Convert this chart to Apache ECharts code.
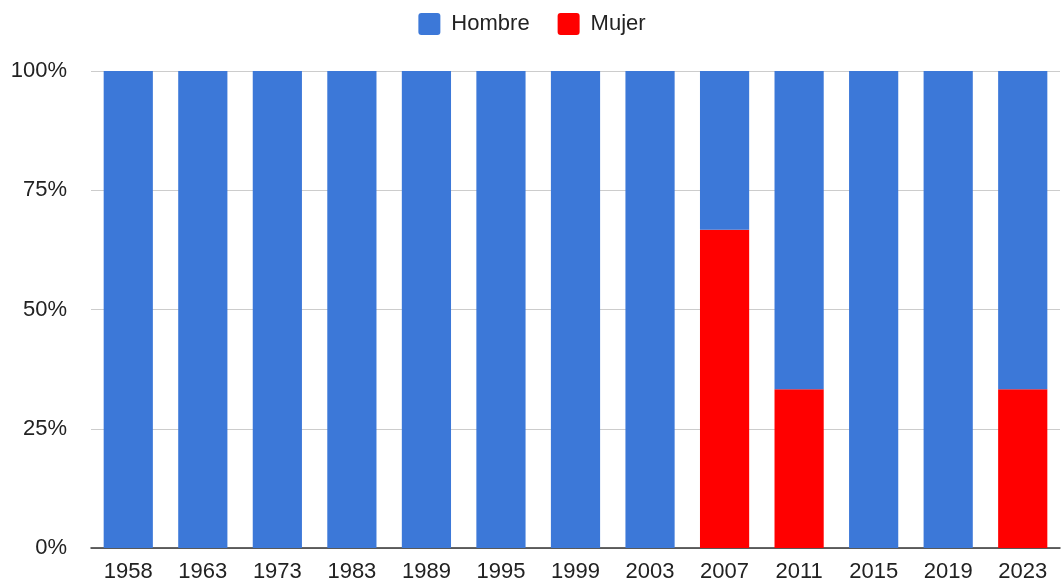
<!DOCTYPE html>
<html>
<head>
<meta charset="utf-8">
<script src="https://cdn.jsdelivr.net/npm/echarts@6/dist/echarts.min.js"></script>
<style>
  html, body { margin: 0; padding: 0; background: #fff; }
  #chart { width: 1064px; height: 583px; }
</style>
</head>
<body>
<div id="chart"></div>
<script>
var years = ['1958', '1963', '1973', '1983', '1989', '1995', '1999', '2003', '2007', '2011', '2015', '2019', '2023'];
var hombre = [100, 100, 100, 100, 100, 100, 100, 100, 33.3, 66.7, 100, 100, 66.7];
var mujer = [0, 0, 0, 0, 0, 0, 0, 0, 66.7, 33.3, 0, 0, 33.3];
var yTicks = [0, 25, 50, 75, 100];

var chart = echarts.init(document.getElementById('chart'));
chart.setOption({
  animation: false,
  textStyle: { fontFamily: '"Liberation Sans", Arial, sans-serif' },
  legend: {
    data: ['Hombre', 'Mujer'],
    top: 8,
    left: 'center',
    itemWidth: 22,
    itemHeight: 22,
    itemGap: 28,
    icon: 'path://M3,0 H19 A3,3 0 0 1 22,3 V19 A3,3 0 0 1 19,22 H3 A3,3 0 0 1 0,19 V3 A3,3 0 0 1 3,0 Z',
    textStyle: { fontSize: 22, color: '#222', padding: [0, 0, 0, 6] }
  },
  grid: { left: 91, right: 4, top: 71, bottom: 34, containLabel: false },
  xAxis: {
    type: 'category',
    data: years,
    axisTick: { show: false },
    axisLine: { lineStyle: { color: '#333', width: 1.5 } },
    axisLabel: { fontSize: 22, color: '#222', margin: 13 }
  },
  yAxis: {
    type: 'value',
    min: 0,
    max: 100,
    interval: 25,
    axisLabel: {
      fontSize: 22,
      color: '#222',
      margin: 24,
      formatter: function (v) { return yTicks.indexOf(v) >= 0 ? v + '%' : ''; }
    },
    splitLine: { lineStyle: { color: '#ccc' } },
    axisLine: { show: false },
    axisTick: { show: false }
  },
  series: [
    {
      name: 'Mujer',
      type: 'bar',
      stack: 'total',
      data: mujer,
      barCategoryGap: '34%',
      itemStyle: { color: '#ff0000' }
    },
    {
      name: 'Hombre',
      type: 'bar',
      stack: 'total',
      data: hombre,
      barCategoryGap: '34%',
      itemStyle: { color: '#3c78d8' }
    }
  ]
});
</script>
</body>
</html>
